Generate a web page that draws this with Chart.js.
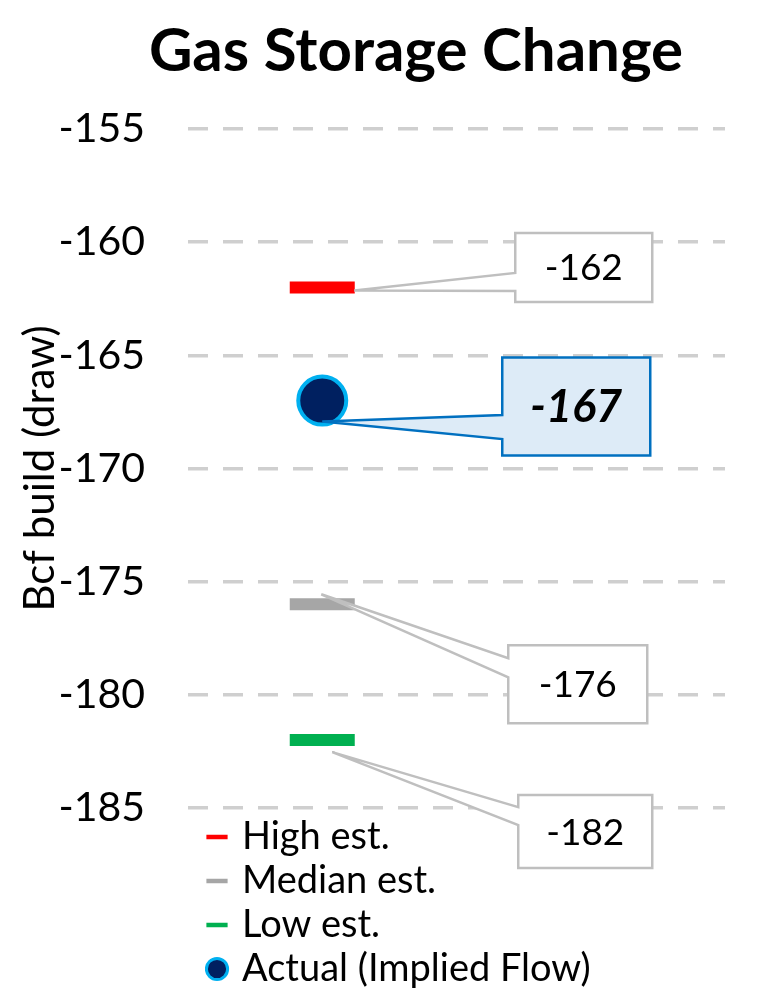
<!DOCTYPE html>
<html>
<head>
<meta charset="utf-8">
<script src="https://cdn.jsdelivr.net/npm/chart.js@4/dist/chart.umd.min.js"></script>
<style>
  html, body { margin: 0; padding: 0; background: #fff; }
  #wrap { width: 776px; height: 991px; position: relative; }
</style>
</head>
<body>
<div id="wrap"><canvas id="chart_storage"></canvas></div>
<script>
const categories = ["Week", ""];
const seriesNames = ["High est.", "Median est.", "Low est.", "Actual (Implied Flow)"];
const highEst = [-162];
const medianEst = [-176];
const lowEst = [-182];
const actual = [-167];
const yTicks = [-155, -160, -165, -170, -175, -180, -185];

const FONT = "Lato";

// callout boxes, placed relative to each point's pixel position
const callouts = [
  { ds: 0, box: [193, -54.5, 137, 69], tip: [32, 3], base: [-14.5, 3.5], fill: "#ffffff", stroke: "#BFBFBF", font: "37px " + FONT },
  { ds: 3, box: [180, -43, 148, 98], tip: [0, 21], base: [14.5, 38.5], fill: "#DDEBF7", stroke: "#0070C0", font: "italic bold 45px " + FONT },
  { ds: 1, box: [186, 41, 139, 78], tip: [-1, -10], base: [54, 73], fill: "#ffffff", stroke: "#BFBFBF", font: "37px " + FONT },
  { ds: 2, box: [196, 55, 134, 73], tip: [10, 12], base: [67, 85], fill: "#ffffff", stroke: "#BFBFBF", font: "37px " + FONT }
];

const calloutPlugin = {
  id: "callouts",
  beforeDraw(chart) {
    // title centred a bit right of the canvas middle, like the original
    if (chart.titleBlock) {
      chart.titleBlock.left = 56;
      chart.titleBlock.right = chart.width;
    }
    // legend sits just under the plot, one item per row
    const lg = chart.legend;
    if (lg) {
      lg.left = chart.chartArea.left + 17;
      lg.top = chart.chartArea.bottom + 4;
      lg.right = lg.left + lg.width;
      lg.bottom = lg.top + lg.height;
    }
  },
  afterDatasetsDraw(chart) {
    const ctx = chart.ctx;
    callouts.forEach(c => {
      const el = chart.getDatasetMeta(c.ds).data[0];
      if (!el) return;
      const px = el.x, py = el.y;
      const L = px + c.box[0], T = py + c.box[1];
      const R = L + c.box[2], B = T + c.box[3];
      ctx.save();
      ctx.beginPath();
      ctx.moveTo(L, T);
      ctx.lineTo(R, T);
      ctx.lineTo(R, B);
      ctx.lineTo(L, B);
      ctx.lineTo(L, py + c.base[1]);
      ctx.lineTo(px + c.tip[0], py + c.tip[1]);
      ctx.lineTo(L, py + c.base[0]);
      ctx.closePath();
      ctx.fillStyle = c.fill;
      ctx.fill();
      ctx.lineWidth = 2.5;
      ctx.strokeStyle = c.stroke;
      ctx.lineJoin = "miter";
      ctx.stroke();
      ctx.fillStyle = "#000";
      ctx.font = c.font;
      ctx.textAlign = "center";
      ctx.textBaseline = "middle";
      const v = chart.data.datasets[c.ds].data[0];
      ctx.fillText(String(v), (L + R) / 2, (T + B) / 2 + 1);
      ctx.restore();
    });
  }
};

function estSet(label, values, color) {
  return {
    label: label,
    data: values,
    showLine: false,
    pointStyle: "line",
    pointRadius: 32.5,
    pointHoverRadius: 32.5,
    pointBorderWidth: 12,
    pointHoverBorderWidth: 12,
    pointBorderColor: color,
    pointBackgroundColor: color,
    borderColor: color,
    backgroundColor: color
  };
}

const data = {
  labels: categories,
  datasets: [
    estSet(seriesNames[0], highEst, "#FF0000"),
    estSet(seriesNames[1], medianEst, "#A6A6A6"),
    estSet(seriesNames[2], lowEst, "#00B050"),
    {
      label: seriesNames[3],
      data: actual,
      showLine: false,
      pointStyle: "circle",
      pointRadius: 24,
      pointHoverRadius: 24,
      pointBorderWidth: 4,
      pointBackgroundColor: "#002060",
      pointBorderColor: "#00B0F0",
      borderColor: "#00B0F0",
      backgroundColor: "#002060"
    }
  ]
};

const config = {
  type: "line",
  data,
  plugins: [calloutPlugin],
  options: {
    responsive: false,
    animation: false,
    layout: { padding: { left: 10, right: 51, top: 0, bottom: 183 } },
    plugins: {
      title: {
        display: true,
        text: "Gas Storage Change",
        color: "#000",
        font: { family: FONT, size: 60, weight: "bold" },
        padding: { top: 16, bottom: 41 }
      },
      legend: {
        position: "chartArea",
        align: "start",
        labels: {
          usePointStyle: true,
          boxWidth: 12,
          boxHeight: 15,
          padding: 6,
          color: "#000",
          font: { family: FONT, size: 38 },
          generateLabels(chart) {
            const items = Chart.defaults.plugins.legend.labels.generateLabels(chart);
            items.forEach(it => {
              it.lineWidth = it.pointStyle === "line" ? 4.5 : 3;
            });
            return items;
          }
        }
      },
      tooltip: { enabled: false }
    },
    scales: {
      x: {
        type: "category",
        display: false,
        offset: true,
        grid: { display: false }
      },
      y: {
        min: -185,
        max: -155,
        afterBuildTicks(scale) {
          scale.ticks = yTicks.map(v => ({ value: v }));
        },
        afterFit(scale) {
          scale.width = 178;
        },
        ticks: {
          color: "#000",
          padding: 43,
          font: { family: FONT, size: 41 }
        },
        grid: {
          color: "#CFCFCF",
          lineWidth: 3.5,
          drawTicks: false
        },
        border: { display: false, dash: [20, 15] },
        title: {
          display: true,
          text: "Bcf build (draw)",
          color: "#000",
          font: { family: FONT, size: 42 },
          padding: { top: 5, bottom: 0 }
        }
      }
    }
  }
};

const canvas = document.getElementById("chart_storage");
canvas.width = 776;
canvas.height = 991;
var myChart = new Chart(canvas, config);
</script>
</body>
</html>
